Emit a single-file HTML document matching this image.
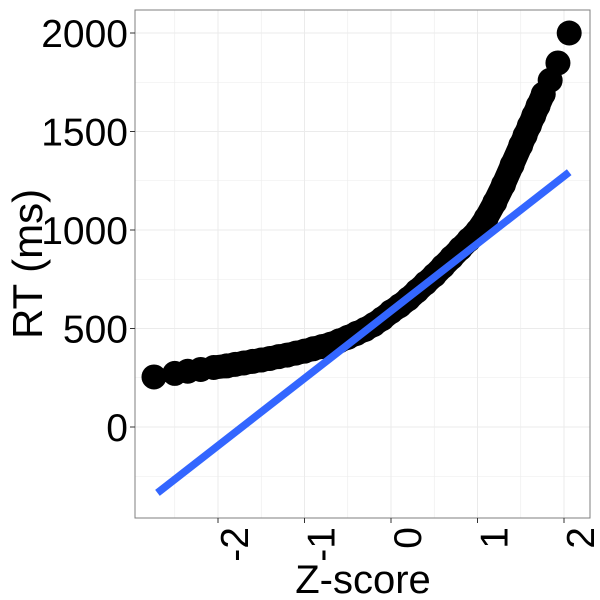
<!DOCTYPE html>
<html><head><meta charset="utf-8"><style>
html,body{margin:0;padding:0;background:#fff;}
svg{display:block;font-family:"Liberation Sans",sans-serif;}
</style></head><body>
<svg id="chart" width="600" height="600">
<rect x="0" y="0" width="600" height="600" fill="#fff"/>
<g id="grid"></g>
<g id="marks"></g>
<rect x="135" y="10" width="455" height="508" fill="none" stroke="#7f7f7f" stroke-width="1"/>
<g id="axes"></g>
<text x="363" y="593" font-size="40" text-anchor="middle">Z-score</text>
<text transform="translate(42,264) rotate(-90)" font-size="42" text-anchor="middle">RT (ms)</text>
</svg>
<script>
const zScores = [-2.74,-2.5,-2.35,-2.2,-2.05,-1.9,-1.8,-1.7,-1.6,-1.5,-1.4,-1.3,-1.2,-1.1,-1.0,-0.9,-0.8,-0.7,-0.6,-0.5,-0.4,-0.3,-0.2,-0.1,0,0.1,0.2,0.3,0.4,0.5,0.6,0.7,0.8,0.9,1.0,1.1,1.2,1.3,1.4,1.5,1.55,1.6,1.65,1.7,1.76,1.84,1.93,2.06];
const rtValues = [254,272,283,292,302,310,318,325,333,340,348,357,365,375,385,397,408,420,437,455,475,495,520,550,585,615,650,690,730,770,815,860,905,950,995,1060,1140,1230,1330,1430,1480,1530,1580,1630,1690,1760,1848,2000];
const fitIntercept = 589;
const fitSlope = 342;
const fitRange = [-2.70, 2.06];
const xTicks = [-2,-1,0,1,2];
const yTicks = [0,500,1000,1500,2000];

const NS="http://www.w3.org/2000/svg";
const X = z => 391 + z*86.5;
const Y = v => 427 - v*0.197;
const mk=(t,a,p)=>{const e=document.createElementNS(NS,t);for(const k in a)e.setAttribute(k,a[k]);p.appendChild(e);return e;};
const grid=document.getElementById('grid'),marks=document.getElementById('marks'),axes=document.getElementById('axes');

for(let i=-3;i<=2;i++){
  for(const z of [i, i+0.5]){
    const x=X(z); if(x<135||x>590) continue;
    const l=mk('line',{x1:x,x2:x,y1:10,y2:518,stroke:'#ebebeb','stroke-width':Number.isInteger(z)?1:0.6},grid);
    
    
  }
}
for(let v=-500;v<=2250;v+=250){
  const y=Y(v); if(y<10||y>518) continue;
  const l=mk('line',{x1:135,x2:590,y1:y,y2:y,stroke:'#ebebeb','stroke-width':v%500===0?1:0.6},grid);
  
  
}

const pts=zScores.slice(4,zScores.length-3).map((z,i)=>X(z)+','+Y(rtValues[i+4])).join(' ');
const band=mk('polyline',{points:pts,fill:'none',stroke:'#000','stroke-width':24,'stroke-linejoin':'round','stroke-linecap':'round'},marks);


zScores.forEach((z,i)=>{
  const c=mk('circle',{cx:X(z),cy:Y(rtValues[i]),r:12.5,fill:'#000'},marks);
  
  
});
const fl=mk('line',{x1:X(fitRange[0]),y1:Y(fitIntercept+fitSlope*fitRange[0]),x2:X(fitRange[1]),y2:Y(fitIntercept+fitSlope*fitRange[1]),stroke:'#3366ff','stroke-width':7.5},marks);



xTicks.forEach(t=>{
  const x=X(t);
  const tk=mk('line',{x1:x,x2:x,y1:518,y2:523,stroke:'#333','stroke-width':1},axes);
  
  
  const tx=mk('text',{transform:`translate(${x+30},527) rotate(-90)`,'font-size':39,'text-anchor':'end'},axes);
  tx.textContent=String(t);
  
  
});
yTicks.forEach(t=>{
  const y=Y(t);
  const tk=mk('line',{x1:130,x2:135,y1:y,y2:y,stroke:'#333','stroke-width':1},axes);
  
  
  const tx=mk('text',{x:128,y:y+14,'font-size':39,'text-anchor':'end'},axes);
  tx.textContent=String(t);
  
  
});
</script>
</body></html>
